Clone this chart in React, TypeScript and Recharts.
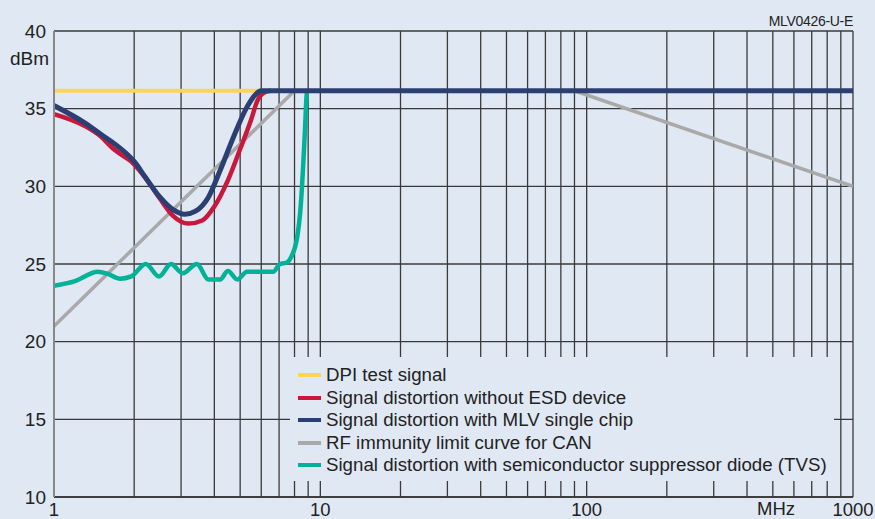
import { LineChart, Line, XAxis, YAxis, CartesianGrid } from "recharts";

const decades = [1, 10, 100, 1000];
const freqTicks = [
  1, 2, 3, 4, 5, 6, 7, 8, 9,
  10, 20, 30, 40, 50, 60, 70, 80, 90,
  100, 200, 300, 400, 500, 600, 700, 800, 900, 1000,
];
const dbmTicks = [10, 15, 20, 25, 30, 35, 40];

const dpiFreq = [1, 6];
const dpiDbm = [36.15, 36.15];

const noEsdFreq = [1, 1.3, 1.5, 1.65, 1.8, 1.95, 2.1, 2.3, 2.5, 2.8, 3.2, 3.6, 4, 4.5, 5, 5.5, 5.8, 6.1, 6.5];
const noEsdDbm = [34.65, 33.9, 33.2, 32.5, 32.0, 31.6, 31.0, 30.1, 29.2, 28.1, 27.6, 27.8, 28.7, 30.4, 32.4, 34.3, 35.5, 36.0, 36.15];

const mlvFreq = [1, 1.3, 1.5, 1.7, 1.9, 2.0, 2.2, 2.5, 2.8, 3.1, 3.4, 3.8, 4.2, 4.7, 5.3, 5.7, 6.0, 10, 100, 1000];
const mlvDbm = [35.2, 34.1, 33.35, 32.7, 32.0, 31.6, 30.6, 29.3, 28.5, 28.2, 28.4, 29.3, 31.0, 33.1, 35.1, 35.9, 36.15, 36.15, 36.15, 36.15];

const canFreq = [1, 8, 90, 1000];
const canDbm = [21, 36.15, 36.15, 30];

const tvsFreq = [1, 1.2, 1.46, 1.6, 1.77, 1.95, 2.21, 2.48, 2.75, 3.04, 3.44, 3.8, 4.2, 4.5, 4.88, 5.3, 6.65, 7.06, 7.5, 7.8, 8.04, 8.2, 8.4, 8.5, 8.6, 8.75, 8.9, 9];
const tvsDbm = [23.6, 23.9, 24.5, 24.35, 24.05, 24.2, 25.0, 24.2, 25.0, 24.4, 25.0, 24.0, 24.0, 24.55, 24.0, 24.5, 24.5, 25.0, 25.1, 25.5, 26.1, 26.8, 28.3, 29.5, 31.0, 33.5, 36.0, 36.15];

const legendItems = [
  { label: "DPI test signal", color: "#fdd35c" },
  { label: "Signal distortion without ESD device", color: "#c8183c" },
  { label: "Signal distortion with MLV single chip", color: "#2b3f72" },
  { label: "RF immunity limit curve for CAN", color: "#a9a9a9" },
  { label: "Signal distortion with semiconductor suppressor diode (TVS)", color: "#00b297" },
];

const toPoints = (f: number[], v: number[]) => f.map((x, i) => ({ f: x, v: v[i] }));

const BG = "#e0e8f4";
const FONT = "'Liberation Sans', Arial, sans-serif";

function FreqTick(props: any) {
  const { x, y, payload } = props;
  if (!decades.includes(payload.value)) return <g />;
  return (
    <text x={x} y={y} dy={18.5} textAnchor="middle" fontSize={18.5} fill="#222" fontFamily={FONT}>
      {payload.value}
    </text>
  );
}

export default function App() {
  return (
    <div style={{ position: "absolute", left: 0, top: 0, width: 875, height: 519, background: BG, fontFamily: FONT, overflow: "hidden" }}>
      <LineChart width={875} height={519} margin={{ top: 31, right: 22, left: 0, bottom: 0 }}>
        <CartesianGrid stroke="#3a3a3a" strokeWidth={1.3} />
        <XAxis
          dataKey="f"
          type="number"
          scale="log"
          domain={[1, 1000]}
          ticks={freqTicks}
          allowDataOverflow
          height={22}
          tickLine={false}
          tickSize={0}
          tickMargin={0}
          axisLine={{ stroke: "#333", strokeWidth: 1.5 }}
          tick={<FreqTick />}
          interval={0}
        />
        <YAxis
          type="number"
          domain={[10, 40]}
          ticks={dbmTicks}
          width={54}
          tickLine={false}
          tickSize={0}
          tickMargin={8}
          axisLine={{ stroke: "#888", strokeWidth: 2 }}
          tick={{ fontSize: 19, fill: "#222", fontFamily: FONT }}
        />
        <Line data={toPoints(dpiFreq, dpiDbm)} dataKey="v" type="linear" stroke="#fdd35c" strokeWidth={4} dot={false} isAnimationActive={false} />
        <Line data={toPoints(canFreq, canDbm)} dataKey="v" type="linear" stroke="#a9a9a9" strokeWidth={3.5} dot={false} isAnimationActive={false} />
        <Line data={toPoints(tvsFreq, tvsDbm)} dataKey="v" type="monotone" stroke="#00b297" strokeWidth={4.5} dot={false} isAnimationActive={false} />
        <Line data={toPoints(noEsdFreq, noEsdDbm)} dataKey="v" type="monotone" stroke="#c8183c" strokeWidth={4.5} dot={false} isAnimationActive={false} />
        <Line data={toPoints(mlvFreq, mlvDbm)} dataKey="v" type="monotone" stroke="#2b3f72" strokeWidth={5} dot={false} isAnimationActive={false} />
      </LineChart>

      <div style={{ position: "absolute", left: 10, top: 49, fontSize: 19, lineHeight: "19px", color: "#222" }}>dBm</div>
      <div style={{ position: "absolute", right: 22, top: 14, fontSize: 14, lineHeight: "14px", letterSpacing: -0.3, color: "#222" }}>MLV0426-U-E</div>
      <div style={{ position: "absolute", left: 757, top: 500, fontSize: 18.5, lineHeight: "18.5px", color: "#222" }}>MHz</div>

      <div style={{ position: "absolute", left: 290, top: 357, width: 544, height: 124, background: BG, boxSizing: "border-box", paddingTop: 7 }}>
        {legendItems.map((item) => (
          <div key={item.label} style={{ display: "flex", alignItems: "center", height: 22.5 }}>
            <div style={{ width: 23, height: 4, marginLeft: 8, marginRight: 5, background: item.color }} />
            <span style={{ fontSize: 18.7, color: "#222", whiteSpace: "nowrap" }}>{item.label}</span>
          </div>
        ))}
      </div>
    </div>
  );
}
